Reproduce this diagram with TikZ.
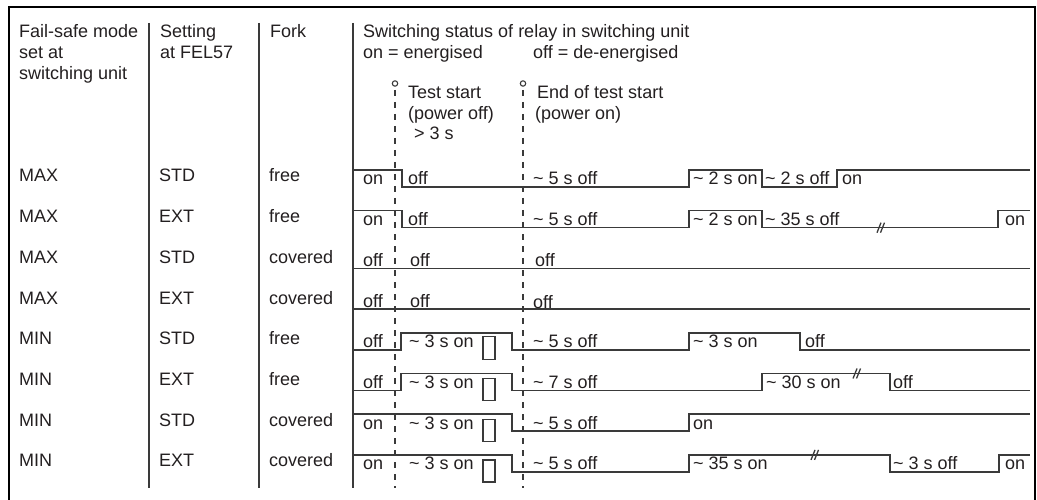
\documentclass[tikz,border=0pt]{standalone}
\usepackage{fontspec}
\setmainfont{Liberation Sans}
\definecolor{ink}{HTML}{231F20}
\definecolor{rule}{HTML}{3A3A3A}
\begin{document}
\begin{tikzpicture}[x=1pt,y=-1pt,
  txt/.style={anchor=base west,inner sep=0pt,font=\fontsize{18}{21}\selectfont,text=ink},
  sig/.style={line width=1.5pt,draw=rule,line join=miter},
  divider/.style={line width=1.6pt,draw=rule},
  frameline/.style={line width=2.6pt,draw=black},
  marker/.style={line width=1.1pt,draw=rule,dash pattern=on 6pt off 6pt},
  brk/.style={line width=1.3pt,draw=rule},
  cover/.style={line width=1.2pt,draw=rule}]
\useasboundingbox (0,0) rectangle (1037,500);
% frame
\draw[frameline] (9,500) -- (9,7) -- (1035,7) -- (1035,500);
% column dividers
\draw[divider] (149,23) -- (149,488);
\draw[divider] (259,23) -- (259,488);
\draw[divider] (353,23) -- (353,488);
% header texts
\node[txt] (h1a) at (19,38) {Fail-safe mode};
\node[txt] (h1b) at (19,59) {set at};
\node[txt] (h1c) at (19,80) {switching unit};
\node[txt] (h2a) at (160,38) {Setting};
\node[txt] (h2b) at (160,59) {at FEL57};
\node[txt] (h3a) at (270,38) {Fork};
\node[txt] (h4a) at (363,38) {Switching status of relay in switching unit};
\node[txt] (h4b) at (363,59) {on = energised};
\node[txt] (h4c) at (533,59) {off = de-energised};
\node[txt] (t1a) at (408,99) {Test start};
\node[txt] (t1b) at (408,120) {(power off)};
\node[txt] (t1c) at (414,140) {> 3 s};
\node[txt] (t2a) at (537,99) {End of test start};
\node[txt] (t2b) at (535,120) {(power on)};
% marker lines
\draw[line width=1.1pt,draw=rule] (395,83.5) circle (2.7);
\draw[line width=1.1pt,draw=rule] (523,83.5) circle (2.7);
\draw[marker] (395,90) -- (395,488);
\draw[marker] (523,90) -- (523,488);
% row labels
\foreach \i/\m/\s/\f in {0/MAX/STD/free,1/MAX/EXT/free,2/MAX/STD/covered,3/MAX/EXT/covered,
                         4/MIN/STD/free,5/MIN/EXT/free,6/MIN/STD/covered,7/MIN/EXT/covered}{
  \pgfmathsetmacro{\yb}{182+40.7*\i}
  \node[txt] (m\i) at (19,\yb) {\m};
  \node[txt] (s\i) at (159,\yb) {\s};
  \node[txt] (f\i) at (269,\yb) {\f};
}
% row 1
\begin{scope}[shift={(0,187)}]
\draw[sig] (353,-17) -| (402,0) -| (689,-17) -| (762,0) -| (837,-17) -- (1030,-17);
\node[txt] (a1) at (363,-2) {on};
\node[txt] (a2) at (408,-2) {off};
\node[txt] (a3) at (533,-2) {\textasciitilde\ 5 s off};
\node[txt] (a4) at (693,-2) {\textasciitilde\ 2 s on};
\node[txt] (a5) at (765,-2) {\textasciitilde\ 2 s off};
\node[txt] (a6) at (842,-2) {on};
\end{scope}
% row 2
\begin{scope}[shift={(0,227.7)}]
\draw[sig] (353,-17) -| (402,0) -| (689,-17) -| (762,0) -| (998,-17) -- (1030,-17);
\draw[brk] (877,5) -- (881,-5) (880.5,5) -- (884.5,-5);
\node[txt] (b1) at (363,-2) {on};
\node[txt] (b2) at (408,-2) {off};
\node[txt] (b3) at (533,-2) {\textasciitilde\ 5 s off};
\node[txt] (b4) at (693,-2) {\textasciitilde\ 2 s on};
\node[txt] (b5) at (765,-2) {\textasciitilde\ 35 s off};
\node[txt] (b6) at (1005,-2) {on};
\end{scope}
% row 3
\begin{scope}[shift={(0,268.4)}]
\draw[sig] (353,0) -- (1030,0);
\node[txt] (c1) at (363,-2) {off};
\node[txt] (c2) at (410,-2) {off};
\node[txt] (c3) at (535,-2) {off};
\end{scope}
% row 4
\begin{scope}[shift={(0,309.1)}]
\draw[sig] (353,0) -- (1030,0);
\node[txt] (d1) at (363,-2) {off};
\node[txt] (d2) at (410,-2) {off};
\node[txt] (d3) at (533,-1) {off};
\end{scope}
% row 5
\begin{scope}[shift={(0,349.8)}]
\draw[sig] (353,0) -| (401,-17) -| (512,0) -| (689,-17) -| (800,0) -- (1030,0);
\draw[cover] (483,-13) rectangle (495,10);
\node[txt] (e1) at (363,-2) {off};
\node[txt] (e2) at (409,-2) {\textasciitilde\ 3 s on};
\node[txt] (e3) at (533,-2) {\textasciitilde\ 5 s off};
\node[txt] (e4) at (693,-2) {\textasciitilde\ 3 s on};
\node[txt] (e5) at (805,-2) {off};
\end{scope}
% row 6
\begin{scope}[shift={(0,390.5)}]
\draw[sig] (353,0) -| (401,-17) -| (512,0) -| (762,-17) -| (890,0) -- (1030,0);
\draw[brk] (853,-12) -- (857,-22) (856.5,-12) -- (860.5,-22);
\draw[cover] (483,-12) rectangle (495,10);
\node[txt] (g1) at (363,-2) {off};
\node[txt] (g2) at (409,-2) {\textasciitilde\ 3 s on};
\node[txt] (g3) at (533,-2) {\textasciitilde\ 7 s off};
\node[txt] (g4) at (766,-2) {\textasciitilde\ 30 s on};
\node[txt] (g5) at (893,-2) {off};
\end{scope}
% row 7
\begin{scope}[shift={(0,431.2)}]
\draw[sig] (353,-17) -| (512,0) -| (689,-17) -- (1030,-17);
\draw[cover] (483,-12) rectangle (495,10);
\node[txt] (k1) at (363,-2) {on};
\node[txt] (k2) at (409,-2) {\textasciitilde\ 3 s on};
\node[txt] (k3) at (533,-2) {\textasciitilde\ 5 s off};
\node[txt] (k4) at (693,-2) {on};
\end{scope}
% row 8
\begin{scope}[shift={(0,471.9)}]
\draw[sig] (353,-17) -| (512,0) -| (689,-17) -| (890,0) -| (999,-17) -- (1030,-17);
\draw[brk] (811,-12) -- (815,-22) (814.5,-12) -- (818.5,-22);
\draw[cover] (483,-12) rectangle (495,10);
\node[txt] (n1) at (363,-2) {on};
\node[txt] (n2) at (409,-2) {\textasciitilde\ 3 s on};
\node[txt] (n3) at (533,-2) {\textasciitilde\ 5 s off};
\node[txt] (n4) at (693,-2) {\textasciitilde\ 35 s on};
\node[txt] (n5) at (893,-2) {\textasciitilde\ 3 s off};
\node[txt] (n6) at (1005,-2) {on};
\end{scope}
\end{tikzpicture}
\end{document}
